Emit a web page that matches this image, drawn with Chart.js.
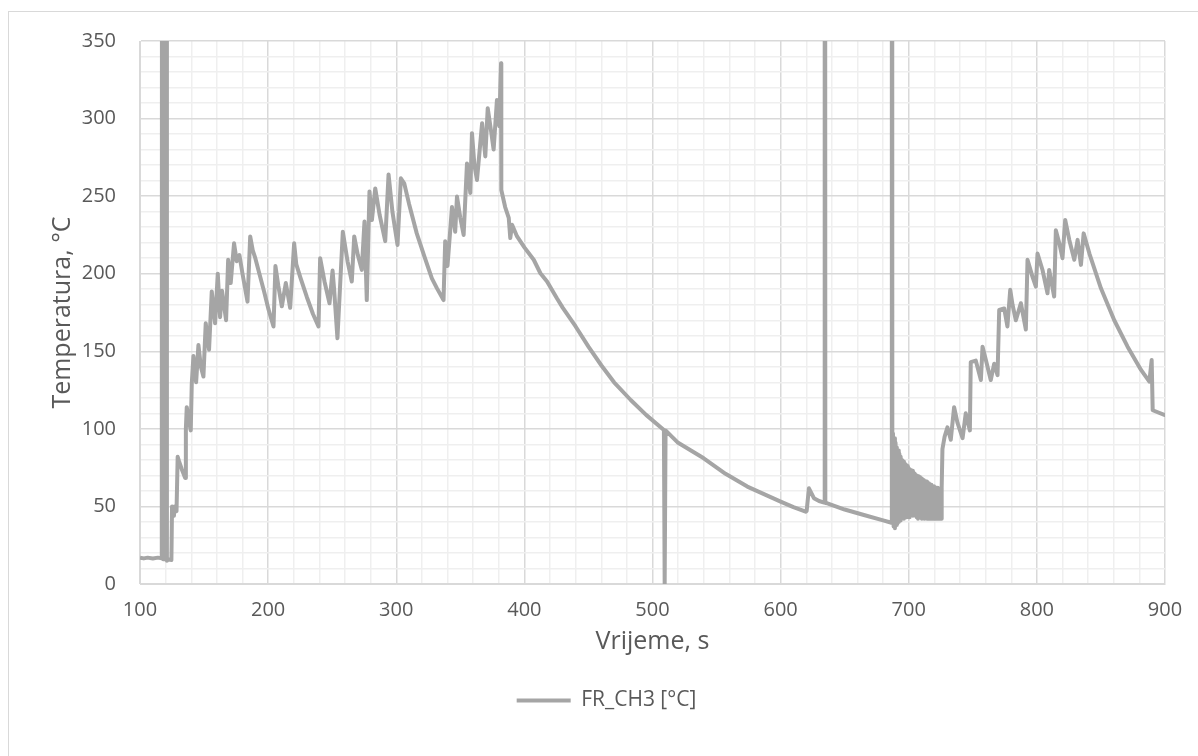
<!DOCTYPE html>
<html>
<head>
<meta charset="utf-8">
<script src="https://cdn.jsdelivr.net/npm/chart.js@4.4.1/dist/chart.umd.min.js"></script>
<style>
  body { margin: 0; background: #fff; }
  #wrap { position: relative; width: 1198px; height: 756px; }
  #frame { position: absolute; left: 8px; top: 11px; width: 1300px; height: 900px;
           border-left: 1px solid #d9d9d9; border-top: 1px solid #d9d9d9; }
  canvas { position: absolute; left: 0; top: 0; }
</style>
</head>
<body>
<div id="wrap">
  <div id="frame"></div>
  <canvas id="myChart" width="1198" height="756"></canvas>
</div>
<script>
//===================== DATA ==========================
// vrijeme [s]
const vrijeme = [
  100,103,106,110,114,117,
  117.5,118,118.5,119,119.5,120,120.5,121,
  122,124.5,125,126,126.5,127,128.5,129.4,130.5,132.6,135.2,135.8,136.5,138,139.6,140.4,141.7,143.8,145.6,147.5,149.5,
  151.3,153.9,156,158.6,160.7,162.5,164,167.2,168.8,170.8,173.4,175.5,177.6,180,183.9,186,188,190,193.8,197,200.3,204.2,205.7,208,
  210.7,213.8,217.2,220.3,222,225,230.2,235,239.3,240.6,244,247.9,250.3,251.5,254.1,258.3,262,265.3,267.2,270,273.1,275.2,
  277,279.1,281,283.6,287,291.4,294,297,301,303.6,306.2,310,316,322,327.8,331.7,336.9,338.2,340,343.5,346,347.4,350,
  352.6,355.2,357.8,359.1,361,363,367,369.5,371.4,374,376,378.6,380.5,381.2,381.8,382,385,387.8,389,390.4,394.3,400,
  407.3,412.5,417.7,425.5,430,440,450,460,470,483,495,508.9,509.5,510.2,520,540,557,574,600,610,619.5,620.3,622.1,626,
  630,634,634.4,634.9,636.5,650,665,680,686.5,686.8,687.2,
  687.7,688.2,688.7,689.2,689.7,690.2,690.7,691.2,691.7,692.2,692.7,693.2,693.7,694.2,694.7,695.2,695.7,696.2,696.7,697.2,
  697.7,698.2,698.7,699.2,699.7,700.2,700.7,701.2,701.7,702.2,702.7,703.2,703.7,704.2,704.7,705.2,705.7,706.2,706.7,707.2,
  707.7,708.2,708.7,709.2,709.7,710.2,710.7,711.2,711.7,712.2,712.7,713.2,713.7,714.2,714.7,715.2,715.7,716.2,716.7,717.2,
  717.7,718.2,718.7,719.2,719.7,720.2,720.7,721.2,721.7,722.2,722.7,723.2,723.7,724.2,724.7,725.2,725.7,726.3,
  728,730.2,732.8,735.4,738,742,744.5,747.7,748.4,752.3,756.3,757.6,760,764,766.7,769.3,770.6,774.5,777,779.2,781,
  783.6,787.5,791.4,792.7,796.6,799.2,800.5,804.4,808.3,809.6,813.5,814.8,817.5,820,822.1,825.3,829.2,831.8,834.4,
  836.5,841,850,860.4,870.8,881.3,887.8,889.6,890.4,899.5,900
];

// FR_CH3 [°C]
const temperatura = [
  17,16.5,17,16.5,17,16.5,
  1500,16,1500,16,1500,16,1500,15,
  16,15.5,50,48,44,50,47,82,79,74,68.4,100,114,106,99,129,147,130,154,140,133.7,
  168,151,188.5,168,200,172,189,170,209,194,219.6,208,212,200,182,224,215,210,198,188,177,166,205,192,
  179,194,178,219.6,206,198,185,174,166,210,195,181,202,190,158.4,227,208,195,224,212,202.5,233.6,
  183,253,234.6,255,238,221,264,240,218.5,261.5,258.3,245,226,211,197,190.7,183,221,205,243,227,249.7,236,
  225,271,252,290.6,270,260.4,297,275.6,306.7,292,280,312,295,320,335.7,254,243,236,223,231.5,224,217,
  209,200.3,195,184,178,166,153,141,130,118.6,109,99.3,0,99,91,81,71,62.8,53.1,49.5,46.6,47,61.7,55.3,
  53.5,52.5,1500,52.2,52,48,44.5,41,39.5,1500,40,
  97,37,94,36,91,38,88,39,86,40,84,41,82,42,80,43,79,42,78,44,
  77,43,76,44,75,43,74,44,73.5,45,73,44,72,45,71,44,70,43,69,42,
  69.5,43,69,44,68,42,67,43,67,42,66,43,66,42,65,43,65,42,64,43,
  64,42,63,43,63,42,62,43,62,42,62,43,61,42,61,42,62,87,
  95,101,93,114,104,94,110,99,143,144,131.5,153,145,131.5,142,134.6,176.6,177.6,166,189.6,180,
  170,181,164,209,198,191.7,213,202.4,187.4,202.4,185.3,228,219.7,210,234.7,221.8,209,221.8,205.7,
  226,213,190.6,170,153,138,130.4,144.4,112,109,109
];

const seriesName = 'FR_CH3 [°C]';
const xTitle = 'Vrijeme, s';
const yTitle = 'Temperatura, °C';

//===================== CHART ==========================
Chart.defaults.font.family = "'Open Sans', sans-serif";
Chart.defaults.font.size = 20;
Chart.defaults.color = '#595959';

const points = vrijeme.map((v, i) => ({x: v, y: temperatura[i]}));

const ch3_dataset = {
  label: seriesName,
  data: points,
  showLine: true,
  borderWidth: 4,
  borderColor: '#a5a5a5',
  backgroundColor: '#a5a5a5',
  fill: false,
  tension: 0,
  pointRadius: 0,
  pointHoverRadius: 0,
  borderJoinStyle: 'round'
};

const majorGrid = '#d9d9d9';
const minorGrid = '#efefef';

const ctx = document.getElementById('myChart');

const myChart = new Chart(ctx, {
  type: 'scatter',
  data: { datasets: [ch3_dataset] },
  options: {
    responsive: false,
    animation: false,
    layout: { padding: { top: 41, right: 33, left: 48, bottom: 35 } },
    scales: {
      x: {
        type: 'linear',
        min: 100,
        max: 900,
        afterFit: s => { s.height = 96; },
        border: { color: majorGrid, width: 1 },
        grid: {
          drawTicks: false,
          color: c => (Math.round(c.tick.value) % 100 === 0 ? majorGrid : minorGrid),
          lineWidth: 1.5
        },
        ticks: {
          stepSize: 20,
          autoSkip: false,
          maxRotation: 0,
          padding: 14,
          callback: v => (Math.round(v) % 100 === 0 ? Math.round(v) : '')
        },
        title: { display: true, text: xTitle, font: { size: 25 }, padding: { top: 0, bottom: 23 } }
      },
      y: {
        min: 0,
        max: 350,
        afterFit: s => { s.width = 92; },
        border: { color: majorGrid, width: 1 },
        grid: {
          drawTicks: false,
          color: c => (Math.round(c.tick.value) % 50 === 0 ? majorGrid : minorGrid),
          lineWidth: 1.5
        },
        ticks: {
          stepSize: 10,
          autoSkip: false,
          padding: 24,
          callback: v => (Math.round(v) % 50 === 0 ? Math.round(v) : '')
        },
        title: { display: true, text: yTitle, font: { size: 25 }, padding: { top: 0, bottom: 0 } }
      }
    },
    plugins: {
      legend: {
        position: 'bottom',
        labels: {
          usePointStyle: true,
          pointStyle: 'line',
          pointStyleWidth: 54,
          padding: 10,
          font: { size: 21 }
        }
      },
      tooltip: { enabled: false }
    }
  }
});
</script>
</body>
</html>
